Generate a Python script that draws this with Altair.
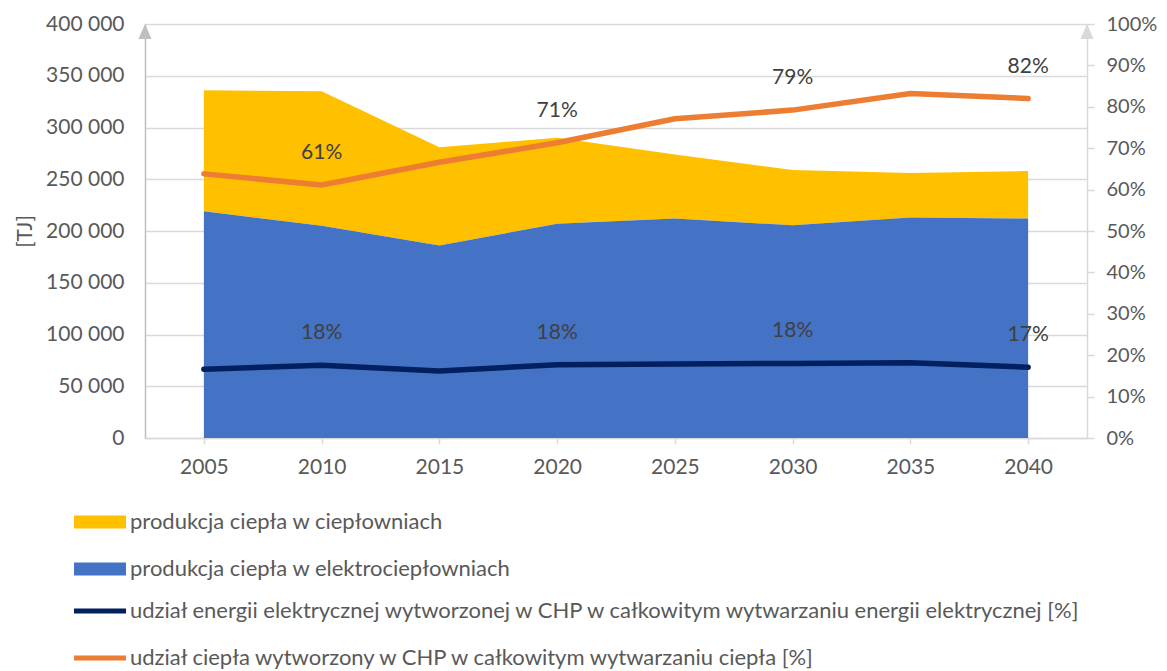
import altair as alt
import pandas as pd

years = [2005, 2010, 2015, 2020, 2025, 2030, 2035, 2040]
heat_hp = [117000, 130000, 95000, 83000, 62000, 53500, 43000, 46000]
heat_chp = [219000, 205000, 186000, 207000, 212000, 205500, 213000, 212000]
share_el = [0.166, 0.176, 0.162, 0.177, 0.179, 0.180, 0.182, 0.171]
share_heat = [0.638, 0.611, 0.666, 0.713, 0.771, 0.792, 0.832, 0.820]
label_years = [2010, 2020, 2030, 2040]

s_hp = "produkcja ciepła w ciepłowniach"
s_chp = "produkcja ciepła w elektrociepłowniach"
s_el = "udział energii elektrycznej wytworzonej w CHP w całkowitym wytwarzaniu energii elektrycznej [%]"
s_heat = "udział ciepła wytworzony w CHP w całkowitym wytwarzaniu ciepła [%]"

FONT = "Lato"
TXT = "#595959"
GRID = "#D9D9D9"
AX_FS = 21
LEG_FS = 22

area_df = pd.DataFrame({
    "rok": years * 2,
    "seria": [s_hp] * len(years) + [s_chp] * len(years),
    "wartosc": heat_hp + heat_chp,
    "kolejnosc": [1] * len(years) + [0] * len(years),
})
line_df = pd.DataFrame({
    "rok": years * 2,
    "seria": [s_el] * len(years) + [s_heat] * len(years),
    "udzial": share_el + share_heat,
})
one = pd.DataFrame({"a": [0]})

W, H = 942, 414

x_axis = alt.Axis(labelAngle=0, title=None, domainColor=GRID, domainWidth=1.5,
                  tickColor=GRID, tickWidth=1.5, tickSize=6, labelPadding=12,
                  labelFont=FONT, labelFontSize=AX_FS, labelColor=TXT, grid=False)
x_enc = alt.X("rok:O", scale=alt.Scale(type="point", padding=0.5), axis=x_axis)

left_axis = alt.Axis(orient="left", values=list(range(0, 400001, 50000)),
                     labelExpr="replace(format(datum.value, ','), regexp(',', 'g'), ' ')",
                     title="[TJ]", titleFont=FONT, titleFontSize=AX_FS, titleColor=TXT,
                     titleFontWeight="normal", titlePadding=10,
                     labelFont=FONT, labelFontSize=AX_FS, labelColor=TXT, labelPadding=21,
                     ticks=False, tickSize=0, domainColor="#BFBFBF", domainWidth=1.5,
                     grid=True, gridColor=GRID, gridWidth=1.5)

right_axis = alt.Axis(orient="right", values=[i / 10 for i in range(11)], format=".0%",
                      title=None, labelFont=FONT, labelFontSize=20, labelColor=TXT,
                      labelPadding=12, ticks=True, tickSize=7, tickColor=GRID, tickWidth=1.5,
                      domainColor=GRID, domainWidth=1.5, grid=False)

rect_path = "M-4,-1H4V1H-4Z"
stroke_path = "M-4,0H4"

area = alt.Chart(area_df).mark_area(opacity=1, interpolate="linear").encode(
    x=x_enc,
    y=alt.Y("wartosc:Q", stack="zero",
            scale=alt.Scale(domain=[0, 400000], nice=False), axis=left_axis),
    fill=alt.Fill("seria:N",
                  scale=alt.Scale(domain=[s_hp, s_chp], range=["#FFC000", "#4472C4"]),
                  legend=alt.Legend(title=None, orient="none", legendX=-56, legendY=487,
                                    direction="vertical", symbolType=rect_path,
                                    symbolSize=169, symbolOpacity=1, symbolStrokeWidth=0,
                                    labelOffset=19, rowPadding=25, padding=0,
                                    labelFont=FONT, labelFontSize=LEG_FS, labelColor=TXT,
                                    labelLimit=1100)),
    order=alt.Order("kolejnosc:Q"),
)

left_arrow = alt.Chart(one).mark_point(
    shape="M0,-1L0.87,1L-0.87,1Z", size=225, filled=True, color="#BFBFBF", opacity=1
).encode(x=alt.value(0), y=alt.value(7.5))

right_arrow = alt.Chart(one).mark_point(
    shape="M0,-1L0.87,1L-0.87,1Z", size=225, filled=True, color=GRID, opacity=1
).encode(x=alt.value(W), y=alt.value(7.5))

y_pct = alt.Y("udzial:Q", scale=alt.Scale(domain=[0, 1], nice=False), axis=right_axis)

lines = alt.Chart(line_df).mark_line(strokeWidth=5.5, strokeCap="round", strokeJoin="round").encode(
    x=x_enc,
    y=y_pct,
    stroke=alt.Stroke("seria:N",
                      scale=alt.Scale(domain=[s_el, s_heat], range=["#002060", "#ED7D31"]),
                      legend=alt.Legend(title=None, orient="none", legendX=-56, legendY=576,
                                        direction="vertical", symbolType=stroke_path,
                                        symbolSize=169, symbolStrokeWidth=5,
                                        labelOffset=19, rowPadding=25, padding=0,
                                        labelFont=FONT, labelFontSize=LEG_FS, labelColor=TXT,
                                        labelLimit=1100)),
)

labels = alt.Chart(line_df).transform_filter(
    alt.FieldOneOfPredicate(field="rok", oneOf=label_years)
).mark_text(dy=-32, fontSize=AX_FS, font=FONT, color="#404040", baseline="middle").encode(
    x=x_enc,
    y=y_pct,
    text=alt.Text("udzial:Q", format=".0%"),
)

chart = alt.layer(
    alt.layer(area, left_arrow),
    alt.layer(lines, labels, right_arrow),
).resolve_scale(y="independent").properties(
    width=W, height=H, padding={"left": 6, "top": 5, "right": 0, "bottom": 5},
    background="white",
).configure_view(stroke=None)

chart.save("out.html", embed_options={"renderer": "svg", "actions": False})
